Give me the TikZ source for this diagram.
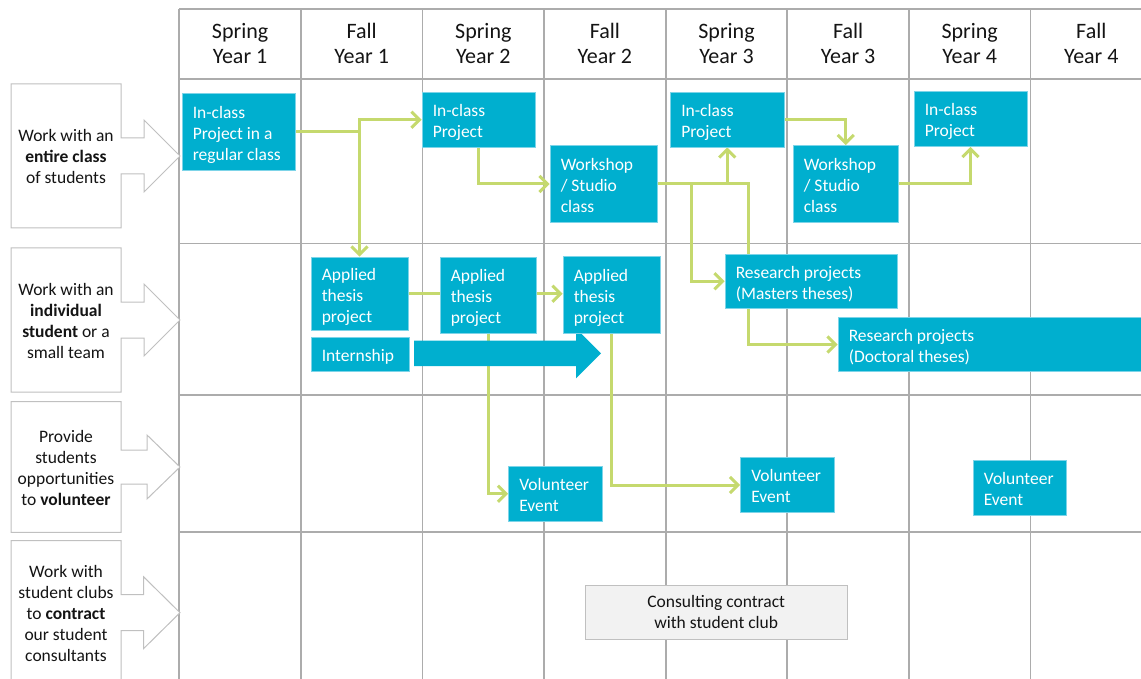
\documentclass[tikz,border=0pt]{standalone}
\usepackage{fontspec}
\setmainfont{Carlito}
\usetikzlibrary{arrows.meta}

\definecolor{cellblue}{RGB}{0,175,207}
\definecolor{cellrim}{RGB}{125,212,232}
\definecolor{linkgreen}{RGB}{197,217,110}
\definecolor{gridgray}{RGB}{172,172,172}
\definecolor{calloutgray}{RGB}{192,192,192}
\definecolor{clubfill}{RGB}{242,242,242}
\definecolor{inkdark}{RGB}{20,20,20}

% strut: 0.8 of a line above the baseline, 0.2 below
\newcommand\boxstrut{\rule[-0.2\baselineskip]{0pt}{\baselineskip}}
\newcommand\bodyfont{\fontsize{17.5}{21}\selectfont}
\newcommand\headfont{\fontsize{22}{25.6}\selectfont}

\pgfdeclarelayer{gridlayer}
\pgfdeclarelayer{linklayer}
\pgfsetlayers{gridlayer,linklayer,main}

\tikzset{
  gridline/.style={draw=gridgray, line width=1.8pt},
  callout/.style={draw=calloutgray, line width=1pt, fill=white},
  cell/.style={rectangle, fill=cellblue, draw=cellrim, line width=0.9pt, inner sep=0pt},
  celltext/.style={anchor=west, align=left, inner sep=0pt, text=white, font=\bodyfont},
  head/.style={align=center, inner sep=0pt, font=\headfont, text=inkdark},
  sidetext/.style={align=center, inner sep=0pt, font=\bodyfont, text=inkdark},
  club/.style={rectangle, fill=clubfill, draw=calloutgray, line width=1pt,
    align=center, font=\bodyfont, text=inkdark, inner sep=0pt},
  link/.style={draw=linkgreen, line width=3pt,
    -{Straight Barb[length=8pt, width=16pt]}},
}

\begin{document}
\begin{tikzpicture}[x=1pt, y=-1pt]
\useasboundingbox (0,0) rectangle (1141,679);
\clip (0,0) rectangle (1141,679);

% ---------- timetable grid ----------
\begin{pgfonlayer}{gridlayer}
  \foreach \k in {0,...,7}
    \draw[gridline] ({179.3+121.6*\k},9) -- ({179.3+121.6*\k},679);
  \foreach \yy in {9,79,243.5,395,532}
    \draw[gridline] (179.3,\yy) -- (1141,\yy);
\end{pgfonlayer}

% ---------- column headings ----------
\node[head] (h1) at (240.1,43.5) {\boxstrut Spring\\Year 1\boxstrut};
\node[head] (h2) at (361.7,43.5) {\boxstrut Fall\\Year 1\boxstrut};
\node[head] (h3) at (483.3,43.5) {\boxstrut Spring\\Year 2\boxstrut};
\node[head] (h4) at (604.9,43.5) {\boxstrut Fall\\Year 2\boxstrut};
\node[head] (h5) at (726.5,43.5) {\boxstrut Spring\\Year 3\boxstrut};
\node[head] (h6) at (848.1,43.5) {\boxstrut Fall\\Year 3\boxstrut};
\node[head] (h7) at (969.7,43.5) {\boxstrut Spring\\Year 4\boxstrut};
\node[head] (h8) at (1091.3,43.5) {\boxstrut Fall\\Year 4\boxstrut};

% ---------- row callouts on the left ----------
\draw[callout] (11,84) -- (121,84) -- (121,138) -- (144,138) -- (144,120) -- (180,156)
  -- (144,192) -- (144,174) -- (121,174) -- (121,228) -- (11,228) -- cycle;
\node[sidetext] (r1) at (66,156.5)
  {\boxstrut Work with an\\\textbf{entire class}\\of students\boxstrut};

\draw[callout] (11,248) -- (121,248) -- (121,302) -- (144,302) -- (144,284) -- (180,320)
  -- (144,356) -- (144,338) -- (121,338) -- (121,392) -- (11,392) -- cycle;
\node[sidetext] (r2) at (66,320.5)
  {\boxstrut Work with an\\\textbf{individual}\\\textbf{student} or a\\small team\boxstrut};

\draw[callout] (11,401.7) -- (121,401.7) -- (121,450) -- (147,450) -- (147,435) -- (180,467)
  -- (147,499) -- (147,484) -- (121,484) -- (121,532.3) -- (11,532.3) -- cycle;
\node[sidetext] (r3) at (66,467.5)
  {\boxstrut Provide\\students\\opportunities\\to \textbf{volunteer}\boxstrut};

\draw[callout] (11,540.7) -- (121,540.7) -- (121,594.7) -- (143.5,594.7) -- (143.5,576.7)
  -- (180,612.7) -- (143.5,648.7) -- (143.5,630.7) -- (121,630.7) -- (121,684.7)
  -- (11,684.7) -- cycle;
\node[sidetext] (r4) at (66,613.2)
  {\boxstrut Work with\\student clubs\\to \textbf{contract}\\our student\\consultants\boxstrut};

% ---------- internship arrow ----------
\fill[cellblue] (414,340.7) -- (576,340.7) -- (576,328.3) -- (601,353.3)
  -- (576,378.3) -- (576,366) -- (414,366) -- cycle;

% ---------- activity boxes ----------
\node[cell, minimum width=113pt, minimum height=76.5pt] (b1) at (238.5,131.75) {};
\node[celltext] (t1) at ([xshift=11pt,yshift=-1pt]b1.west) {\boxstrut In-class\\Project in a\\regular class\boxstrut};

\node[cell, minimum width=113pt, minimum height=54.5pt] (b2) at (478.5,119.75) {};
\node[celltext] (t2) at ([xshift=11pt,yshift=-1pt]b2.west) {\boxstrut In-class\\Project\boxstrut};

\node[cell, minimum width=107pt, minimum height=77pt] (b3) at (603.5,184) {};
\node[celltext] (t3) at ([xshift=11pt,yshift=-1pt]b3.west) {\boxstrut Workshop\\/ Studio\\class\boxstrut};

\node[cell, minimum width=113.5pt, minimum height=54.5pt] (b4) at (727.25,119.75) {};
\node[celltext] (t4) at ([xshift=11pt,yshift=-1pt]b4.west) {\boxstrut In-class\\Project\boxstrut};

\node[cell, minimum width=105.5pt, minimum height=77pt] (b5) at (845.75,184) {};
\node[celltext] (t5) at ([xshift=11pt,yshift=-1pt]b5.west) {\boxstrut Workshop\\/ Studio\\class\boxstrut};

\node[cell, minimum width=113pt, minimum height=55pt] (b6) at (970.5,119) {};
\node[celltext] (t6) at ([xshift=11pt,yshift=-1pt]b6.west) {\boxstrut In-class\\Project\boxstrut};

\node[cell, minimum width=172.5pt, minimum height=54.5pt] (b7) at (811.25,281.25) {};
\node[celltext] (t7) at ([xshift=11pt,yshift=-1pt]b7.west) {\boxstrut Research projects\\(Masters theses)\boxstrut};

\node[cell, minimum width=310pt, minimum height=54pt] (b8) at (993,344.5) {};
\node[celltext] (t8) at ([xshift=11pt,yshift=-1pt]b8.west) {\boxstrut Research projects\\(Doctoral theses)\boxstrut};

\node[cell, minimum width=97pt, minimum height=73.5pt] (b9) at (359.5,293.75) {};
\node[celltext] (t9) at ([xshift=11pt,yshift=-1pt]b9.west) {\boxstrut Applied\\thesis\\project\boxstrut};

\node[cell, minimum width=98pt, minimum height=34pt] (b10) at (360,354) {};
\node[celltext] (t10) at ([xshift=11pt,yshift=-1pt]b10.west) {\boxstrut Internship\boxstrut};

\node[cell, minimum width=96pt, minimum height=76pt] (b11) at (488,295) {};
\node[celltext] (t11) at ([xshift=11pt,yshift=-1pt]b11.west) {\boxstrut Applied\\thesis\\project\boxstrut};

\node[cell, minimum width=97pt, minimum height=76.5pt] (b12) at (611.5,294.75) {};
\node[celltext] (t12) at ([xshift=11pt,yshift=-1pt]b12.west) {\boxstrut Applied\\thesis\\project\boxstrut};

\node[cell, minimum width=93.5pt, minimum height=54.5pt] (b13) at (555.25,493.75) {};
\node[celltext] (t13) at ([xshift=11pt,yshift=-1pt]b13.west) {\boxstrut Volunteer\\Event\boxstrut};

\node[cell, minimum width=93.5pt, minimum height=55pt] (b14) at (787.25,485) {};
\node[celltext] (t14) at ([xshift=11pt,yshift=-1pt]b14.west) {\boxstrut Volunteer\\Event\boxstrut};

\node[cell, minimum width=93.5pt, minimum height=54.5pt] (b15) at (1019.8,487.7) {};
\node[celltext] (t15) at ([xshift=11pt,yshift=-1pt]b15.west) {\boxstrut Volunteer\\Event\boxstrut};

\node[club, minimum width=261.5pt, minimum height=54pt] (c1) at (716.25,612)
  {\boxstrut Consulting contract\\with student club\boxstrut};

% ---------- progression links ----------
\begin{pgfonlayer}{linklayer}
  \draw[link] (b1.east) -- ++(64,0) |- (b2.west);
  \draw[link] (b1.east) -| (b9.north);
  \draw[link] (b2.south) |- (b3.west);
  \draw[link] (b3.east) -| (b4.south);
  \draw[link] (b3.east) -- ++(34,0) |- (b7.west);
  \draw[link] (b3.east) -- ++(91,0) |- (b8.west);
  \draw[link] (b4.east) -| (b5.north);
  \draw[link] (b5.east) -| (b6.south);
  \draw[link] (b9.east) -- (b9.east -| b12.west);
  \draw[link] (b11.south) |- (b13.west);
  \draw[link] (b12.south) |- (b14.west);
\end{pgfonlayer}
\end{tikzpicture}
\end{document}
